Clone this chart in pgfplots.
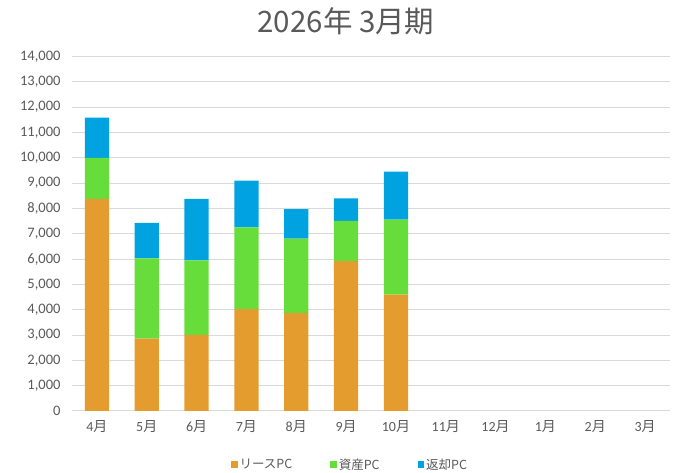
\documentclass[border=0pt]{standalone}
\usepackage{fontspec}
\setmainfont{Carlito}
\newfontfamily\cjk{Noto Sans CJK JP}
\usepackage{pgfplots}
\pgfplotsset{compat=1.18}
\definecolor{cOr}{HTML}{E59C2E}
\definecolor{cGr}{HTML}{66DD3A}
\definecolor{cBl}{HTML}{00A3E0}
\definecolor{cTx}{HTML}{595959}
\definecolor{cGd}{HTML}{D9D9D9}
\newcommand{\M}{{\cjk 月}}
\begin{document}
\begin{tikzpicture}
\path[use as bounding box] (0,0) rectangle (679pt,473pt);
\node[text=cTx] at (346pt,452pt) {\cjk\fontsize{29.5}{34}\selectfont 2026年 3月期};
\begin{axis}[
  at={(72pt,62pt)}, anchor=south west, scale only axis,
  width=598pt, height=354.5pt,
  ybar stacked, bar width=24.3pt,
  xmin=-0.5, xmax=11.5, ymin=0, ymax=14000,
  ytick distance=1000,
  xtick={0,...,11},
  xticklabels={4\M,5\M,6\M,7\M,8\M,9\M,10\M,11\M,12\M,1\M,2\M,3\M},
  x tick label style={font=\fontsize{14}{16}\selectfont, text=cTx, yshift=-6pt},
  y tick label style={font=\fontsize{14.5}{16}\selectfont, text=cTx, xshift=-8pt},
  /pgf/number format/assume math mode=true,
  /pgf/number format/1000 sep={,},
  scaled y ticks=false,
  major tick length=0pt,
  axis line style={draw=none},
  ymajorgrids, major grid style={draw=cGd, line width=1pt},
  legend style={at={(0.465,-0.152)}, anchor=center, draw=none, fill=none,
    font=\cjk\fontsize{12.5}{14}\selectfont, text=cTx,
    legend columns=3, /tikz/every even column/.append style={column sep=36pt}},
  legend image code/.code={\fill[#1] (0pt,-3pt) rectangle (6.5pt,3.5pt);},
  legend cell align=left,
]
\addplot[fill=cOr, draw=none] coordinates {(0,8380) (1,2860) (2,3010) (3,4020) (4,3870) (5,5920) (6,4600)};
\addplot[fill=cGr, draw=none] coordinates {(0,1620) (1,3170) (2,2940) (3,3230) (4,2940) (5,1590) (6,2960)};
\addplot[fill=cBl, draw=none] coordinates {(0,1590) (1,1400) (2,2430) (3,1850) (4,1160) (5,890) (6,1890)};
\legend{リースPC,資産PC,返却PC}
\end{axis}
\end{tikzpicture}
\end{document}
